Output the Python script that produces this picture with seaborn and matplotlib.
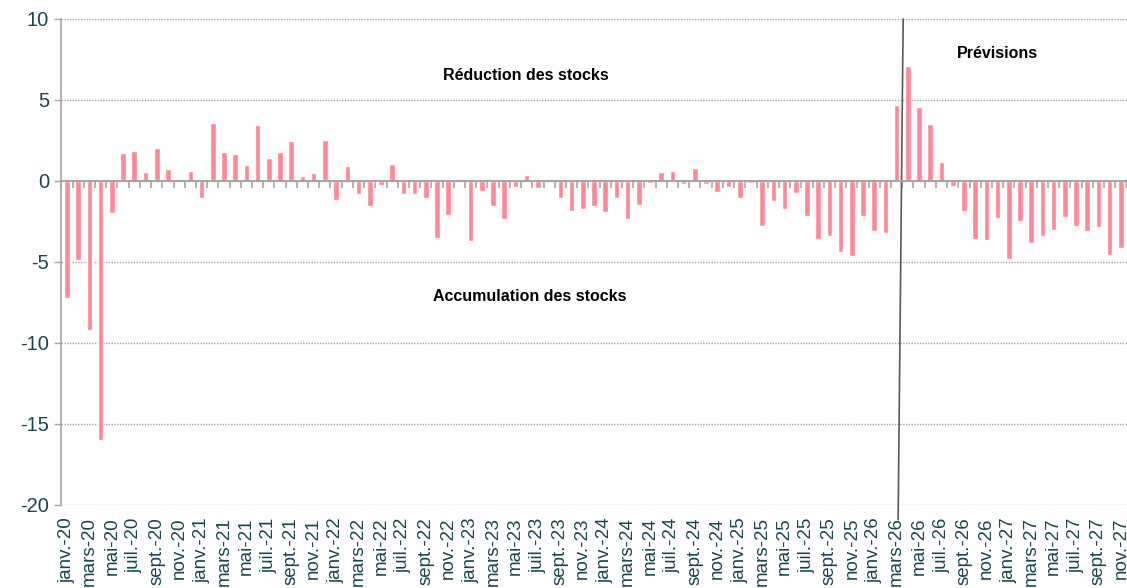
import matplotlib
matplotlib.use("Agg")
import matplotlib.pyplot as plt
import seaborn as sns

# Variation des stocks, mensuel janv.-20 -> nov.-27
mois = ["janv.", "févr.", "mars", "avr.", "mai", "juin",
        "juil.", "août", "sept.", "oct.", "nov.", "déc."]
annees = ["20", "21", "22", "23", "24", "25", "26", "27"]
categories = [f"{m}-{a}" for a in annees for m in mois][:95]

valeurs_2020 = [-7.2, -4.9, -9.2, -16.0, -2.0, 1.73, 1.83, 0.53, 2.02, 0.72, 0.0, 0.62]
valeurs_2021 = [-1.03, 3.56, 1.77, 1.65, 1.01, 3.44, 1.40, 1.77, 2.45, 0.29, 0.47, 2.55]
valeurs_2022 = [-1.17, 0.91, -0.82, -1.52, -0.25, 1.05, -0.82, -0.82, -1.07, -3.5, -2.1, 0.08]
valeurs_2023 = [-3.68, -0.64, -1.54, -2.33, -0.39, 0.37, -0.43, 0.08, -1.03, -1.83, -1.75, -1.52]
valeurs_2024 = [-1.89, -1.03, -2.37, -1.46, -0.1, 0.58, 0.62, -0.19, 0.82, -0.17, -0.68, -0.35]
valeurs_2025 = [-1.07, -0.1, -2.78, -1.21, -1.75, -0.72, -2.14, -3.58, -3.40, -4.38, -4.61, -2.18]
valeurs_2026 = [-3.07, -3.21, 4.69, 7.12, 4.59, 3.49, 1.20, -0.31, -1.85, -3.6, -3.64, -2.28]
valeurs_2027 = [-4.81, -2.49, -3.81, -3.42, -3.02, -2.24, -2.78, -3.11, -2.82, -4.57, -4.12]
valeurs = (valeurs_2020 + valeurs_2021 + valeurs_2022 + valeurs_2023
           + valeurs_2024 + valeurs_2025 + valeurs_2026 + valeurs_2027)

couleur_barres = "#FF8797"
couleur_texte = "#17464F"
gris = "#A6A6A6"

sns.set_style("white")
plt.rcParams["font.family"] = ["Liberation Sans", "DejaVu Sans"]

fig = plt.figure(figsize=(11.27, 5.88), dpi=100)
ax = fig.add_axes([0.0545, 0.1412, 0.955, 0.8265])

sns.barplot(x=categories, y=valeurs, color=couleur_barres, width=0.5,
            saturation=1, ax=ax)

ax.set_xlim(-0.5, 95.5)
ax.set_ylim(-20, 10)
ax.set_yticks(range(-20, 11, 5))
ax.set_yticklabels([str(v) for v in range(-20, 11, 5)])
ax.yaxis.grid(True, linestyle=(0, (1, 1)), color=gris, linewidth=1)
ax.set_axisbelow(True)

# étiquettes tous les deux mois, en bas
pos_labels = list(range(0, 95, 2))
ax.set_xticks(pos_labels)
ax.set_xticklabels([categories[i] for i in pos_labels])
ax.set_xticks([i + 0.5 for i in range(-1, 96)], minor=True)
ax.tick_params(axis="x", which="major", bottom=True, top=False, length=0, pad=9,
               labelrotation=90, labelsize=13.5, labelcolor=couleur_texte)
ax.tick_params(axis="x", which="minor", bottom=False, top=True, direction="in",
               length=5, width=1.2, color=gris)
ax.tick_params(axis="y", left=True, length=5, width=1, color=gris, pad=4,
               labelsize=14.5, labelcolor=couleur_texte)

# axe zéro
ax.spines["top"].set_position(("data", 0))
ax.spines["top"].set_color(gris)
ax.spines["top"].set_linewidth(1.5)
ax.spines["bottom"].set_visible(False)
ax.spines["right"].set_visible(False)
ax.spines["left"].set_color(gris)
ax.spines["left"].set_linewidth(1.2)
ax.set_xlabel("")
ax.set_ylabel("")

# séparation historique / prévisions
ax.plot([74.58, 74.13], [10, -20.9], color="#595959", linewidth=1.2, clip_on=False)

ax.text(40.9, 6.5, "Réduction des stocks", ha="center", va="center",
        fontsize=11.5, fontweight="bold", color="black")
ax.text(41.3, -7.1, "Accumulation des stocks", ha="center", va="center",
        fontsize=11.5, fontweight="bold", color="black")
ax.text(83.0, 7.9, "Prévisions", ha="center", va="center",
        fontsize=11.5, fontweight="bold", color="black")

fig.savefig("out.png", dpi=100)
